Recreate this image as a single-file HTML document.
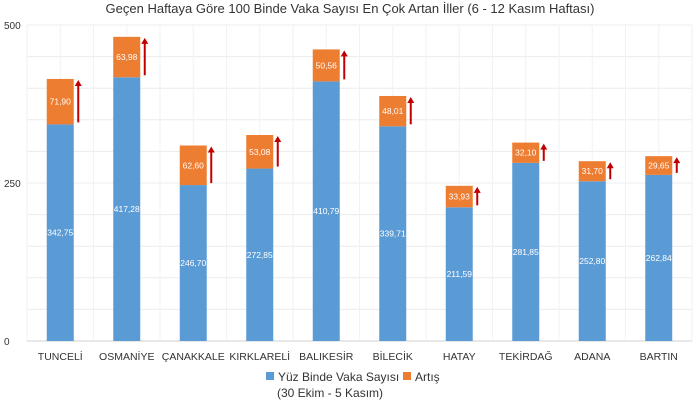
<!DOCTYPE html>
<html><head><meta charset="utf-8"><style>
body{margin:0;background:#fff;font-family:"Liberation Sans",sans-serif}
svg text{font-family:"Liberation Sans",sans-serif}
</style></head><body>
<svg width="700" height="400" id="c">
<text x="350" y="13" text-anchor="middle" font-size="13" fill="#333">Geçen Haftaya Göre 100 Binde Vaka Sayısı En Çok Artan İller (6 - 12 Kasım Haftası)</text>
<g id="grid"></g><g id="bars"></g>
<g>
<rect x="266" y="372" width="8" height="8" fill="#5b9bd5"/>
<text x="278" y="381" font-size="12" fill="#333">Yüz Binde Vaka Sayısı</text>
<text x="277" y="397" font-size="12" fill="#333">(30 Ekim - 5 Kasım)</text>
<rect x="403" y="372" width="8" height="8" fill="#ed7d31"/>
<text x="415" y="381" font-size="12" fill="#333">Artış</text>
</g>
</svg>
<script>
const categories=["TUNCELİ","OSMANİYE","ÇANAKKALE","KIRKLARELİ","BALIKESİR","BİLECİK","HATAY","TEKİRDAĞ","ADANA","BARTIN"];
const baseValues=[342.75,417.28,246.70,272.85,410.79,339.71,211.59,281.85,252.80,262.84];
const increaseValues=[71.90,63.98,62.60,53.08,50.56,48.01,33.93,32.10,31.70,29.65];
const yTicks=[0,250,500];
const ns="http://www.w3.org/2000/svg";
const x0=27,x1=692,y0=341,y1=25,band=(x1-x0)/categories.length,bw=27;
const y=v=>y0-(v/500)*(y0-y1);
const fmt=v=>v.toFixed(2).replace('.',',');
function mk(t,a,p){const e=document.createElementNS(ns,t);for(const k in a)e.setAttribute(k,a[k]);p.appendChild(e);return e;}
const g=document.getElementById('grid'),b=document.getElementById('bars');
for(let v=0;v<=500;v+=50){const l=mk('line',{x1:x0,x2:x1,y1:y(v),y2:y(v),stroke:v===0?'#d0d0d0':'#ececec','stroke-width':1},g);

}
for(let i=0;i<=categories.length*2;i++){const xx=x0+i*band/2;const l=mk('line',{x1:xx,x2:xx,y1:y1,y2:y0,stroke:'#f2f2f2','stroke-width':1},g);

}
yTicks.forEach(v=>{const t=mk('text',{x:4,y:y(v)+4,'font-size':10,fill:'#333'},g);t.textContent=v;

});
categories.forEach((c,i)=>{
const cx=x0+band*(i+0.5),bx=cx-bw/2;
const tb=y(baseValues[i]),tt=y(baseValues[i]+increaseValues[i]);
const r1=mk('rect',{x:bx,y:tb,width:bw,height:y0-tb,fill:'#5b9bd5'},b);


const r2=mk('rect',{x:bx,y:tt,width:bw,height:tb-tt,fill:'#ed7d31'},b);


const l1=mk('text',{x:cx,y:(tb+y0)/2+3,'text-anchor':'middle','font-size':8.5,fill:'#fff'},b);l1.textContent=fmt(baseValues[i]);


const l2=mk('text',{x:cx,y:(tt+tb)/2+3,'text-anchor':'middle','font-size':8.5,fill:'#fff'},b);l2.textContent=fmt(increaseValues[i]);


const ax=bx+bw+4.5;
const ar=mk('g',{},b);


mk('line',{x1:ax,x2:ax,y1:tt+6,y2:tb-2,stroke:'#c00000','stroke-width':2},ar);
mk('polygon',{points:`${ax-3.5},${tt+7} ${ax+3.5},${tt+7} ${ax},${tt+1}`,fill:'#c00000'},ar);
const xl=mk('text',{x:cx,y:360,'text-anchor':'middle','font-size':10.5,fill:'#333'},b);xl.textContent=c;


});
</script>
</body></html>
